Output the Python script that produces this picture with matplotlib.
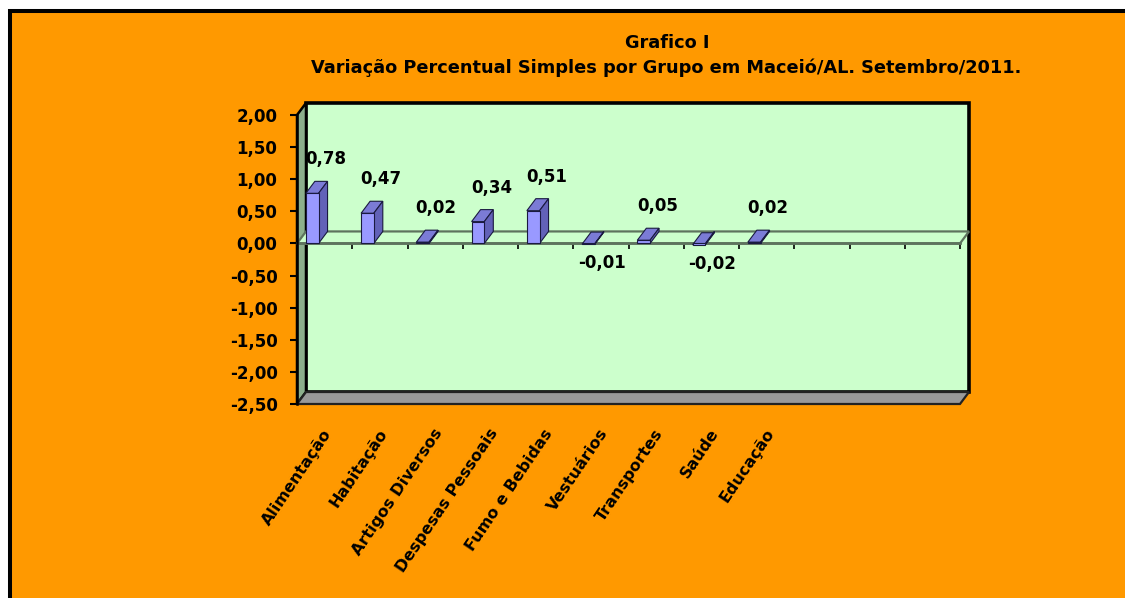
import matplotlib
matplotlib.use('Agg')
import matplotlib.pyplot as plt
from matplotlib.patches import Rectangle, Polygon

title_line1 = "Grafico I"
title_line2 = "Variação Percentual Simples por Grupo em Maceió/AL. Setembro/2011."
categories = ["Alimentação", "Habitação", "Artigos Diversos", "Despesas Pessoais",
              "Fumo e Bebidas", "Vestuários", "Transportes", "Saúde", "Educação"]
values = [0.78, 0.47, 0.02, 0.34, 0.51, -0.01, 0.05, -0.02, 0.02]
n_slots = 12
y_ticks = [2.0, 1.5, 1.0, 0.5, 0.0, -0.5, -1.0, -1.5, -2.0, -2.5]
y_tick_labels = [f"{t:.2f}".replace('.', ',') for t in y_ticks]
y_min, y_max = -2.5, 2.0

W, H = 1125, 598
FS = 12
FS_CAT = 11.5
FS_TITLE = 12.8
plt.rcParams['font.family'] = ['DejaVu Sans']
plt.rcParams['font.weight'] = 'bold'

fig = plt.figure(figsize=(W / 100, H / 100), dpi=100)
fig.patch.set_facecolor('white')

# orange panel with black border (top/left visible)
bx, by = 10, 11
panel = Rectangle((bx / W, -20 / H), (W + 40) / W, (H - by + 20) / H,
                  transform=fig.transFigure, facecolor='#FF9900',
                  edgecolor='black', linewidth=2.9, zorder=0)
fig.add_artist(panel)

# titles
fig.text(667 / W, 1 - 48 / H, title_line1, ha='center', va='baseline',
         fontsize=FS_TITLE, fontweight='bold')
fig.text(666 / W, 1 - 73 / H, title_line2, ha='center', va='baseline',
         fontsize=FS_TITLE, fontweight='bold')

# front plane axes
ax_l, ax_r, ax_t, ax_b = 297, 960, 115, 404
ax = fig.add_axes([ax_l / W, 1 - ax_b / H, (ax_r - ax_l) / W, (ax_b - ax_t) / H])
ax.set_xlim(0, n_slots)
ax.set_ylim(y_min, y_max)
ax.patch.set_visible(False)

px_x = (ax_r - ax_l) / n_slots
px_y = (ax_b - ax_t) / (y_max - y_min)
dx = 9 / px_x
dy = 12 / px_y

wall_green = '#CCFFCC'
# back wall
ax.add_patch(Rectangle((dx, y_min + dy), n_slots, y_max - y_min,
                       facecolor=wall_green, edgecolor='black', linewidth=2.6,
                       clip_on=False, zorder=1))
# left side wall
ax.add_patch(Polygon([(0, y_min), (0, y_max), (dx, y_max + dy), (dx, y_min + dy)],
                     closed=True, facecolor='#8CAF8C', edgecolor='black',
                     linewidth=1.8, clip_on=False, zorder=2))
# floor
ax.add_patch(Polygon([(0, y_min), (n_slots, y_min), (n_slots + dx, y_min + dy),
                      (dx, y_min + dy)], closed=True, facecolor='#999999',
                     edgecolor='#222222', linewidth=1.6, clip_on=False, zorder=2))
# zero plane
ax.add_patch(Polygon([(0, 0), (n_slots, 0), (n_slots + dx, dy), (dx, dy)],
                     closed=True, facecolor=wall_green, edgecolor='#5E735E',
                     linewidth=1.6, clip_on=False, zorder=3))

# bars (pseudo 3D)
bw = 0.23
boff = 0.16
for i, v in enumerate(values):
    x0 = i + boff
    x1 = x0 + bw
    ax.add_patch(Polygon([(x0, v), (x1, v), (x1 + dx, v + dy), (x0 + dx, v + dy)],
                         closed=True, facecolor='#7B7BD6', edgecolor='#1A1A40',
                         linewidth=0.8, clip_on=False, zorder=5))
    ax.add_patch(Polygon([(x1, 0), (x1, v), (x1 + dx, v + dy), (x1 + dx, dy)],
                         closed=True, facecolor='#6262B8', edgecolor='#1A1A40',
                         linewidth=0.8, clip_on=False, zorder=5))
    ax.add_patch(Rectangle((x0, 0), bw, v, facecolor='#9999FF', edgecolor='#1A1A40',
                           linewidth=0.8, clip_on=False, zorder=6))
    lab = f"{v:.2f}".replace('.', ',')
    off = 24.5 if v > 0 else -13.7
    ax.annotate(lab, (i + 0.52, v), xytext=(0, off), textcoords='offset points',
                ha='center', va='center', fontsize=FS, fontweight='bold', zorder=7)

# category labels
for i, c in enumerate(categories):
    ax.annotate(c, (i + 0.5, y_min), xytext=(3, -19), textcoords='offset points',
                rotation=56, ha='right', va='center', rotation_mode='anchor',
                fontsize=FS_CAT, fontweight='bold', annotation_clip=False)

# axes styling
for s in ['top', 'right']:
    ax.spines[s].set_visible(False)
ax.spines['left'].set_color('black')
ax.spines['left'].set_linewidth(1.8)
ax.spines['left'].set_zorder(8)
ax.spines['bottom'].set_position(('data', 0))
ax.spines['bottom'].set_color('#5E735E')
ax.spines['bottom'].set_linewidth(2.0)
ax.spines['bottom'].set_zorder(4)
ax.set_yticks(y_ticks)
ax.set_yticklabels(y_tick_labels, fontsize=FS, fontweight='bold')
ax.set_xticks(range(n_slots + 1))
ax.set_xticklabels([])
ax.tick_params(axis='y', direction='out', length=5, width=1.5, pad=9)
ax.tick_params(axis='x', direction='out', length=4, width=1.2, color='black')

fig.savefig('out.png', dpi=100, facecolor=fig.get_facecolor())
